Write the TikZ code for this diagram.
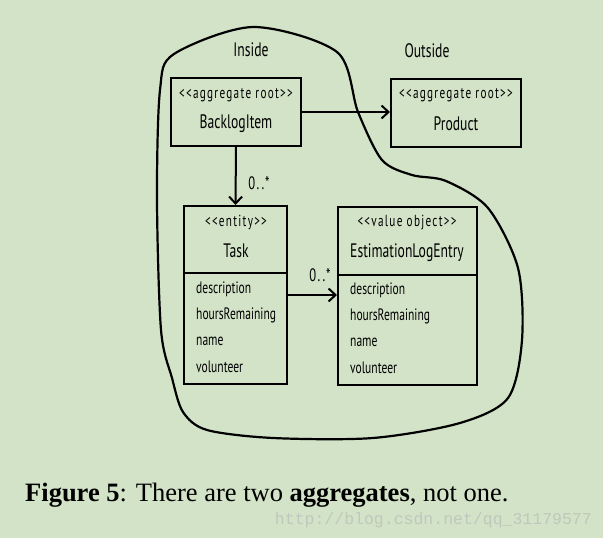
\documentclass[tikz,border=0pt]{standalone}
\usepackage{fontspec}
\setmainfont{Liberation Serif}
\newfontfamily\handfont[FakeStretch=0.7]{PT Sans}
\newfontfamily\stereofont[FakeStretch=0.7,LetterSpace=8]{PT Sans}
\setmonofont{Liberation Mono}
\usetikzlibrary{arrows.meta}
\definecolor{bgcol}{RGB}{211,227,200}
\definecolor{markcol}{RGB}{190,200,188}
\tikzset{
    classbox/.style={draw,line width=2pt,inner sep=0pt},
    stereo/.style={font=\stereofont\fontsize{16}{18}\selectfont},
    cname/.style={font=\handfont\fontsize{19.5}{22}\selectfont},
    attr/.style={anchor=west,inner sep=0pt,font=\handfont\fontsize{16.5}{18}\selectfont},
    mult/.style={font=\stereofont\fontsize{18}{20}\selectfont},
    assoc/.style={line width=2pt,-{Straight Barb[length=7pt,width=13pt,line width=2pt]}}
}
\begin{document}
\begin{tikzpicture}[x=1pt,y=-1pt]
    \fill[bgcol] (0,0) rectangle (603,538);
    \useasboundingbox (0,0) rectangle (603,538);
    \draw[line width=2.2pt,smooth cycle] plot coordinates {(253,27) (337,52) (358,112) (382,160) (412,175) (446,181) (488,208) (518,268) (522,340) (508,398) (460,423) (373,438) (273,438) (207,430) (183,412) (172,378) (161,330) (157,200) (160,90) (174,54)};
    \node[cname] (inside) at (251,50) {Inside};
    \node[cname] (outside) at (427,51) {Outside};
    \node[classbox,minimum width=130,minimum height=68] (backlog) at (236,112) {};
    \node[stereo] (backlogst) at (236,95) {<<aggregate root>>};
    \node[cname] (backlogname) at (236,124) {BacklogItem};
    \node[classbox,minimum width=130,minimum height=68] (product) at (456,113) {};
    \node[stereo] (productst) at (456,95) {<<aggregate root>>};
    \node[cname] (productname) at (456,124) {Product};
    \node[classbox,minimum width=103,minimum height=178] (task) at (235.5,295) {};
    \draw[line width=2pt] (task.west |- 0,273) -- (task.east |- 0,273);
    \node[stereo] (taskst) at (236,222) {<<entity>>};
    \node[cname] (taskname) at (236,251) {Task};
    \node[classbox,minimum width=139,minimum height=178] (ele) at (407.5,296) {};
    \draw[line width=2pt] (ele.west |- 0,275) -- (ele.east |- 0,275);
    \node[stereo] (elest) at (407,223) {<<value object>>};
    \node[cname] (elename) at (407,253) {EstimationLogEntry};
    \foreach \a [count=\i] in {description,hoursRemaining,name,volunteer}
        {\node[attr] (taskattr\i) at (196,263+26*\i) {\a};
         \node[attr] (eleattr\i) at (350,264+26*\i) {\a};
        }
    \draw[assoc] (backlog.east) -- (backlog.east -| product.west);
    \draw[assoc] (backlog.south) -- (task.north);
    \draw[assoc] (task.east) -- (task.east -| ele.west);
    \node[mult] (taskmult) at (259,183) {0..*};
    \node[mult] (elemult) at (320,275) {0..*};
    \node[anchor=base west,inner sep=0pt,font=\fontsize{26.5}{30}\selectfont] (caption) at (25,501)
        {\textbf{Figure 5}: There are two \textbf{aggregates}, not one.};
    \node[anchor=base east,inner sep=0pt,text=markcol,font=\ttfamily\fontsize{16.5}{18}\selectfont] (mark) at (592,524)
        {http://blog.csdn.net/qq\_31179577};
\end{tikzpicture}
\end{document}
